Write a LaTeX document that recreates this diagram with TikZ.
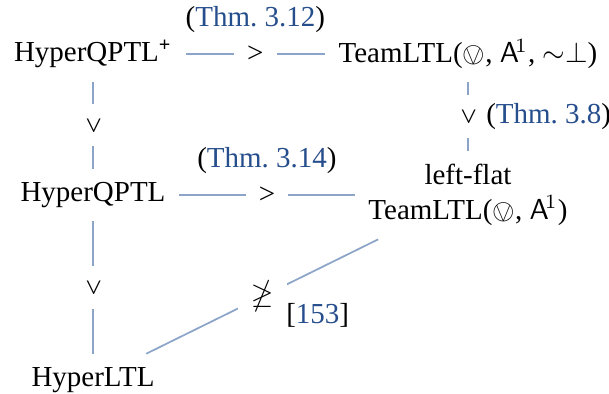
\documentclass[tikz,border=0pt]{standalone}
\usepackage{fontspec}
\setmainfont{Liberation Serif}
\usepackage{amsmath, amssymb}
\usepackage{stmaryrd}
\usetikzlibrary{positioning}
\definecolor{linkblue}{RGB}{38,78,140}
\definecolor{edgeblue}{RGB}{140,164,200}
\newcommand{\thmref}[1]{(\textcolor{linkblue}{Thm.~#1})}

\begin{document}
\begin{tikzpicture}[x=0.345pt, y=-0.345pt,
		logic/.style={rectangle, align=center, inner sep=4.5pt},
		rel/.style={draw=edgeblue, line width=0.6pt},
		cmp/.style={fill=white, inner sep=4.5pt},
		cite/.style={inner sep=0pt}]
		\useasboundingbox (0,0) rectangle (609,394);

		\node [logic] (hqpplus) at (93,54) {HyperQPTL\textsuperscript{\textbf{+}}};
		\node [logic] (tlfull) at (468,54) {TeamLTL($\ovee$, $\mathsf{A}^{\!1}$, ${\sim}\bot$)};
		\node [logic] (hqp) at (93,195) {HyperQPTL};
		\node [logic] (tlflat) at (468,195) {left-flat\\TeamLTL($\ovee$, $\mathsf{A}^{\!1}$)};
		\node [logic] (hltl) at (93,380) {HyperLTL};

		% top row and right column
		\draw[rel] (hqpplus) -- node[cmp] {>} node[cite, above=7pt] {\thmref{3.12}} (tlfull);
		\draw[rel] (tlfull) -- node[cmp, rotate=-90] {>} node[cite, right=6pt] {\thmref{3.8}} (tlflat);

		% middle row
		\draw[rel] (hqp) -- node[cmp] {>} node[cite, above=7pt] {\thmref{3.14}} (tlflat);

		% left column
		\draw[rel] (hqpplus) -- node[cmp, rotate=-90] {>} (hqp);
		\draw[rel] (hqp) -- node[cmp, rotate=-90] {>} (hltl);

		% separation
		\draw[rel] (hltl) -- node[cmp] {$\ngeq$} node[cite, anchor=north west, xshift=8pt, yshift=-2pt] {[\textcolor{linkblue}{153}]} (tlflat);
	\end{tikzpicture}
\end{document}
